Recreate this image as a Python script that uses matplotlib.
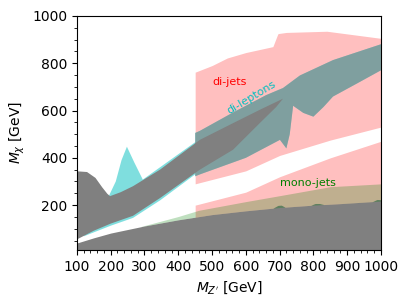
import numpy as np
import matplotlib
matplotlib.use("Agg")
import matplotlib.pyplot as plt
from matplotlib.ticker import MultipleLocator
from matplotlib.patches import Rectangle

# boundaries (M_Z' in GeV, M_chi in GeV)
floor_x = [100, 150, 200, 300, 400, 500, 600, 700, 800, 900, 1000]
floor_y = [40, 62, 82, 112, 138, 160, 176, 190, 200, 208, 217]
bump_x = [680, 695, 705, 718, 790, 805, 818, 832, 975, 988, 1000]
bump_y = [187, 199, 200, 190, 198, 207, 207, 202, 215, 224, 223]

band_lo_x = [100, 150, 200, 266, 346, 464, 562, 640, 690, 710]
band_lo_y = [55, 92, 122, 155, 230, 350, 434, 545, 615, 650]
band_up_x = [100, 130, 155, 175, 190, 198, 230, 266, 346, 464, 560, 640, 710]
band_up_y = [343, 340, 315, 275, 248, 238, 255, 280, 350, 476, 545, 602, 650]

dilep_x = [195, 215, 232, 248, 270, 295, 346, 450, 450, 464, 560, 660, 710, 760, 858, 1000,
           1000, 930, 858, 830, 800, 770, 740, 730, 720, 701, 600, 464, 450, 450, 346, 266, 200, 150, 120]
dilep_y = [240, 300, 390, 447, 380, 308, 360, 466, 505, 514, 590, 665, 695, 748, 813, 880,
           770, 715, 659, 615, 574, 590, 620, 500, 440, 476, 400, 330, 322, 330, 220, 146, 113, 85, 68]

dijet_x = [450, 500, 545, 600, 680, 695, 720, 840, 920, 1000]
dijet_top = [762, 790, 822, 845, 870, 925, 930, 935, 920, 905]
gap_x = [450, 600, 700, 850, 1000]
gap_lo = [200, 255, 320, 400, 470]
gap_hi = [290, 345, 410, 475, 530]

mono_x = [290, 400, 460, 600, 700, 850, 1000]
mono_top = [110, 152, 178, 215, 240, 278, 290]

fig = plt.figure(figsize=(4.07, 3.05), dpi=100)
ax = fig.add_axes([0.189, 0.18, 0.747, 0.768])

# di-jets
xs = np.linspace(450, 1000, 300)
ax.fill_between(xs, 10, np.interp(xs, gap_x, gap_lo), color="red", alpha=0.25, lw=0)
ax.fill_between(xs, np.interp(xs, gap_x, gap_hi), np.interp(xs, dijet_x, dijet_top),
                color="red", alpha=0.25, lw=0)

# di-leptons
ax.fill(dilep_x, dilep_y, color="c", alpha=0.5, lw=0)
shade = ax.fill(dilep_x, dilep_y, color="gray", alpha=0.5, lw=0)[0]
shade.set_clip_path(Rectangle((450, 0), 600, 1000, transform=ax.transData))

# gray region
xf = np.linspace(100, 1000, 400)
floor = np.interp(xf, floor_x, floor_y)
top = np.maximum(floor, np.interp(xf, bump_x, bump_y, left=0, right=0))
ax.fill_between(xf, 10, top, color="gray", lw=0)
ax.fill(band_lo_x + band_up_x[::-1], band_lo_y + band_up_y[::-1], color="gray", lw=0)

# mono-jets
xm = np.linspace(290, 1000, 300)
ax.fill_between(xm, np.interp(xm, floor_x, floor_y), np.interp(xm, mono_x, mono_top),
                color="green", alpha=0.25, lw=0)

ax.text(500, 720, "di-jets", color="red", fontsize=8, va="center")
ax.text(618, 655, "di-leptons", color="c", fontsize=8, rotation=31, ha="center", va="center")
ax.text(784, 295, "mono-jets", color="green", fontsize=8, ha="center", va="center")

ax.set_xlim(100, 1000)
ax.set_ylim(10, 1000)
ax.xaxis.set_major_locator(MultipleLocator(100))
ax.xaxis.set_minor_locator(MultipleLocator(20))
ax.yaxis.set_major_locator(MultipleLocator(200))
ax.yaxis.set_minor_locator(MultipleLocator(50))
ax.tick_params(direction="out", labelsize=10)
ax.set_xlabel("$M_{Z'}$ [GeV]", fontsize=10)
ax.set_ylabel("$M_\\chi$ [GeV]", fontsize=10)

fig.savefig("out.png", dpi=100)
